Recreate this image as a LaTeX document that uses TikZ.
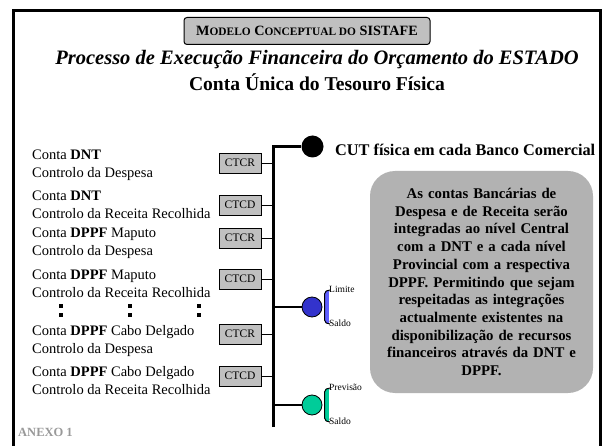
\documentclass[tikz,border=0pt]{standalone}
\usepackage{fontspec}
\setmainfont{Liberation Serif}
\usetikzlibrary{positioning}
\tikzset{>=latex}
\definecolor{boxgray}{RGB}{192,192,192}
\definecolor{notegray}{RGB}{178,178,178}
\definecolor{limcol}{RGB}{51,51,204}
\definecolor{limbar}{RGB}{95,95,255}
\definecolor{prevcol}{RGB}{0,204,153}
\colorlet{anexcol}{black!40}
\tikzstyle{ctc box}=[draw,fill=boxgray,line width=0.8,minimum width=42,minimum height=20,inner sep=0,font=\fontsize{11.5}{12}\selectfont]
\tikzstyle{conta}=[anchor=west,align=left,inner sep=0,font=\fontsize{14.5}{18}\selectfont]
\tikzstyle{note box}=[fill=notegray,rounded corners=25,minimum width=223,minimum height=222,text width=215,align=center,inner sep=0,font=\fontsize{14.8}{17.7}\selectfont\bfseries]
\tikzstyle{bus}=[line width=3]
\tikzstyle{feed}=[line width=0.8]
\tikzstyle{tap}=[line width=1.2]
\tikzstyle{knob}=[circle,draw,line width=0.8,minimum size=20,inner sep=0]
\tikzstyle{small lbl}=[anchor=west,inner sep=0,font=\fontsize{9.5}{10}\selectfont]
\def\BX{273}
\def\sc#1{{\fontsize{11.4}{12}\selectfont #1}}

\begin{document}
\begin{tikzpicture}[x=1pt,y=-1pt]
  \useasboundingbox (0,0) rectangle (602,446);

  % FRAME
  \draw[line width=3] (13.5,446) |- (600.5,11) -- (600.5,446);

  % TITLE
  \node[draw,fill=boxgray,rounded corners=3,line width=1,minimum width=246,minimum height=27,inner sep=0,
    font=\fontsize{14.2}{15}\selectfont\bfseries] (MODEL) at (307,31)
    {M\sc{ODELO} C\sc{ONCEPTUAL DO} SISTAFE};
  \node[inner sep=0,font=\fontsize{20.5}{22}\selectfont\bfseries\itshape] (PROC) at (317,60)
    {Processo de Execução Financeira do Orçamento do ESTADO};
  \node[inner sep=0,font=\fontsize{19.6}{21}\selectfont\bfseries] (CUTF) at (317,82)
    {Conta Única do Tesouro Física};

  % ACCOUNTS
  \foreach \n/\y/\a/\b in {
      1/165.5/{Conta \textbf{DNT}}/{Controlo da Despesa},
      2/205/{Conta \textbf{DNT}}/{Controlo da Receita Recolhida},
      3/243.5/{Conta \textbf{DPPF} Maputo}/{Controlo da Despesa},
      4/283.5/{Conta \textbf{DPPF} Maputo}/{Controlo da Receita Recolhida},
      5/341/{Conta \textbf{DPPF} Cabo Delgado}/{Controlo da Despesa},
      6/380.5/{Conta \textbf{DPPF} Cabo Delgado}/{Controlo da Receita Recolhida}}{
    \node[conta] (acc\n) at (32,\y) {\a\\\b};
  }
  \foreach \x in {61,130,199}{
    \fill (\x-2,303.5) rectangle (\x+2,307.5);
    \fill (\x-2,313) rectangle (\x+2,317);
  }

  % BUS
  \coordinate (BT) at (\BX,147);
  \coordinate (BB) at (\BX,427);
  \node[circle,fill=black,minimum size=22,inner sep=0] (CUT) at (312.5,146.5) {};
  \draw[bus] (BB) |- (CUT);
  \node[anchor=west,inner sep=0,font=\fontsize{16.3}{17}\selectfont\bfseries] (CUTL) at (335,150)
    {CUT física em cada Banco Comercial};

  \foreach \n/\y/\t in {1/163/CTCR,2/205/CTCD,3/238/CTCR,4/279/CTCD,5/334/CTCR,6/376/CTCD}{
    \node[ctc box] (ctc\n) at (240,\y) {\t};
    \draw[feed] (ctc\n.east) -- (ctc\n.east -| BT);
  }

  % LIMITE
  \node[knob,fill=limcol] (LIM) at (312,307) {};
  \draw[tap] (LIM.west -| BT) -- (LIM.west);
  \fill[limbar] (324.5,291) rectangle (328.5,323);
  \draw[line width=1] (330,290) to[out=180,in=90] (324.5,294) -- (324.5,320) to[out=-90,in=180] (330,324);
  \node[small lbl] (LIMT) at (329,289) {Limite};
  \node[small lbl] (LIMS) at (329,323) {Saldo};

  % PREVISAO
  \node[knob,fill=prevcol] (PRV) at (312,405) {};
  \draw[tap] (PRV.west -| BT) -- (PRV.west);
  \fill[prevcol] (324.5,389) rectangle (328.5,421);
  \draw[line width=1] (330,388) to[out=180,in=90] (324.5,392) -- (324.5,418) to[out=-90,in=180] (330,422);
  \node[small lbl] (PRVT) at (329,387) {Previsão};
  \node[small lbl] (PRVS) at (329,421.5) {Saldo};

  % NOTE
  \node[note box] (NOTE) at (481.5,282) {As contas Bancárias de\\Despesa e de Receita serão\\
    integradas ao nível Central\\com a DNT e a cada nível\\Provincial com a respectiva\\
    DPPF. Permitindo que sejam\\respeitadas as integrações\\actualmente existentes na\\
    disponibilização de recursos\\financeiros através da DNT e\\DPPF.};

  % ANEXO
  \node[anchor=west,inner sep=0,text=anexcol,font=\fontsize{12.5}{13}\selectfont\bfseries] (ANX) at (18,432) {ANEXO 1};
\end{tikzpicture}
\end{document}
